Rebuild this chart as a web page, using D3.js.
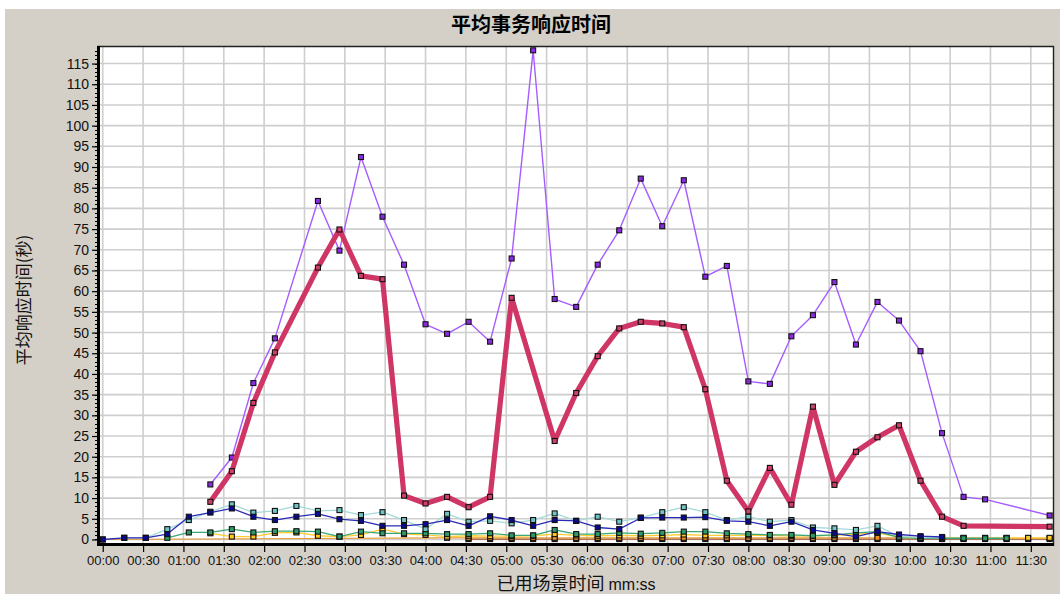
<!DOCTYPE html>
<html>
<head>
<meta charset="utf-8">
<script src="https://cdn.jsdelivr.net/npm/d3@7"></script>
<style>
  body { margin: 0; background: #fff; }
  svg { display: block; }
</style>
</head>
<body>
<svg id="chart" width="1060" height="594"></svg>
<script>
// Sample granularity of the transaction monitor, in seconds
const stepSeconds = 16;

// X tick labels every 30 s, Y ticks every 5 s
const xTickLabels = ["00:00","00:30","01:00","01:30","02:00","02:30","03:00","03:30",
  "04:00","04:30","05:00","05:30","06:00","06:30","07:00","07:30","08:00","08:30",
  "09:00","09:30","10:00","10:30","11:00","11:30"];
const yTicks = [0,5,10,15,20,25,30,35,40,45,50,55,60,65,70,75,80,85,90,95,100,105,110,115];

// Average response time per sample (seconds); null = no sample
const seriesPurple = [null,null,null,null,null,13.3,19.8,37.8,48.6,null,
  81.8,69.8,92.4,78.0,66.4,52.0,49.7,52.6,47.8,67.9,
  118.2,58.1,56.2,66.4,74.7,87.2,75.7,86.8,63.5,66.1,
  38.2,37.6,49.1,54.2,62.2,47.1,57.4,52.9,45.5,25.7,
  10.3,9.7,null,null,5.8];
const seriesCrimson = [null,null,null,null,null,9.1,16.5,33.0,45.2,null,
  65.7,74.9,63.7,62.9,10.6,8.7,10.3,7.8,10.3,58.4,
  null,23.8,35.4,44.3,51.0,52.6,52.2,51.3,36.3,14.2,
  6.8,17.3,8.4,32.1,13.2,21.2,24.7,27.6,14.2,5.5,
  3.3,null,null,null,3.1];
const seriesCyan = [null,0.4,0.4,2.5,4.7,6.7,8.5,6.5,6.9,8.1,
  6.9,7.1,5.9,6.6,4.7,2.5,6.2,4.3,4.5,3.9,
  4.7,6.3,4.5,5.5,4.3,5.3,6.6,7.8,6.6,4.7,
  5.5,4.3,4.7,2.9,2.7,2.3,3.3,0.7,0.5,0.4,
  null,null,null,null,null];
const seriesNavy = [0,0.4,0.4,1.3,5.5,6.5,7.5,5.5,4.7,5.5,
  6.2,4.9,4.5,3.3,3.3,3.7,4.7,3.3,5.6,4.7,
  3.3,4.7,4.5,2.9,2.5,5.2,5.3,5.3,5.4,4.5,
  4.3,3.3,4.3,2.3,1.5,0.7,1.9,1.2,0.8,0.6,
  null,null,null,null,null];
const seriesGreen = [null,null,null,0.4,1.7,1.7,2.5,1.7,2.0,2.0,
  1.9,0.7,1.9,1.5,1.5,1.5,1.3,1.3,1.5,1.0,
  1.0,2.3,1.3,1.3,1.6,1.4,1.6,1.9,1.9,1.5,
  1.3,1.1,1.1,0.9,1.1,1.6,1.9,0.5,0.3,0.3,
  0.3,0.3,0.3,null,null];
const seriesYellow = [null,null,null,null,null,1.5,0.7,0.7,1.6,1.7,
  0.9,0.7,1.1,2.5,1.3,1.1,0.7,0.9,0.8,0.8,
  0.9,1.3,1.0,0.9,1.0,0.9,1.0,1.2,1.0,1.0,
  1.0,1.0,0.8,0.9,1.0,1.3,1.6,0.6,0.5,0.4,
  0.4,0.4,0.4,0.4,0.4];
const seriesOrange = [0,null,null,null,null,null,null,null,null,null,
  null,null,null,null,null,null,0.4,0.4,0.4,0.4,
  0.4,0.4,0.4,0.4,0.4,0.4,0.4,0.4,0.4,0.4,
  0.4,0.4,0.4,0.4,0.4,0.4,0.4,0.4,0.3,0.3,
  0.3,0.3,0.3,0.3,0.3];
const seriesBrown = [null,null,null,null,null,null,null,null,null,null,
  null,null,null,null,null,null,null,0.1,0.1,0.1,
  0.1,0.1,0.1,0.1,0.1,0.1,0.1,0.1,0.1,0.1,
  0.1,0.1,0.1,0.1,0.1,0.1,0.1,0.1,0.1,0.1,
  0.1,0.1,0.1,0.1,0.1];

// Drawing order: small series first, the two heavy series on top
const seriesList = [
  { values: seriesBrown,   line: "#a0522d", fill: "#8b4513", width: 1.2 },
  { values: seriesOrange,  line: "#e89a30", fill: "#f0901e", width: 1.2 },
  { values: seriesYellow,  line: "#ffcc33", fill: "#ffc820", width: 1.3 },
  { values: seriesGreen,   line: "#3aa878", fill: "#2e9a68", width: 1.3 },
  { values: seriesCyan,    line: "#a6dada", fill: "#70c4c4", width: 1.3 },
  { values: seriesNavy,    line: "#2b2bb8", fill: "#0a0a90", width: 1.3 },
  { values: seriesPurple,  line: "#a65cff", fill: "#8a2be2", width: 1.4 },
  { values: seriesCrimson, line: "#cf3565", fill: "#d0406a", width: 5.2 }
];

const W = 1060, H = 594;
const plot = { left: 100, right: 1053, top: 47, bottom: 543 };

const svg = d3.select("#chart");
svg.append("rect").attr("width", W).attr("height", H).attr("fill", "#ffffff");
svg.append("rect").attr("x", 5).attr("y", 9).attr("width", W - 5).attr("height", H - 9).attr("fill", "#d4d0c8");
svg.append("rect")
  .attr("x", plot.left).attr("y", plot.top)
  .attr("width", plot.right - plot.left).attr("height", plot.bottom - plot.top)
  .attr("fill", "#ffffff");

const x = d3.scaleLinear().domain([-3, 706.5]).range([98.7, 1053]);
const y = d3.scaleLinear().domain([-0.85, 119]).range([543, 47]);

const xTickSeconds = xTickLabels.map((_, i) => i * 30);

// Grid
const grid = svg.append("g").attr("stroke", "#cecece").attr("stroke-width", 1.6);
grid.selectAll("line.v").data(xTickSeconds).join("line").attr("class", "v")
  .attr("x1", d => x(d)).attr("x2", d => x(d))
  .attr("y1", plot.top).attr("y2", plot.bottom);
grid.selectAll("line.h").data(yTicks).join("line").attr("class", "h")
  .attr("x1", plot.left).attr("x2", plot.right)
  .attr("y1", d => y(d)).attr("y2", d => y(d));

// Series
svg.append("clipPath").attr("id", "plotClip").append("rect")
  .attr("x", plot.left - 4).attr("y", plot.top - 4)
  .attr("width", plot.right - plot.left + 8).attr("height", plot.bottom - plot.top + 6);

const layer = svg.append("g").attr("clip-path", "url(#plotClip)");
const line = d3.line().x(d => x(d.t)).y(d => y(d.v));

seriesList.forEach(s => {
  const pts = s.values.map((v, i) => ({ t: i * stepSeconds, v })).filter(d => d.v !== null);
  const g = layer.append("g");
  g.append("path").datum(pts)
    .attr("fill", "none").attr("stroke", s.line).attr("stroke-width", s.width)
    .attr("stroke-linejoin", "round").attr("d", line);
  g.selectAll("rect").data(pts).join("rect")
    .attr("x", d => x(d.t) - 2.5).attr("y", d => y(d.v) - 2.5)
    .attr("width", 5).attr("height", 5)
    .attr("fill", s.fill).attr("stroke", "#111").attr("stroke-width", 1.1);
});

// Frame
svg.append("line").attr("x1", 97).attr("x2", plot.right + 1).attr("y1", 46.5).attr("y2", 46.5)
  .attr("stroke", "#222").attr("stroke-width", 1.6);
svg.append("line").attr("x1", plot.right + 0.5).attr("x2", plot.right + 0.5).attr("y1", 46).attr("y2", 546)
  .attr("stroke", "#222").attr("stroke-width", 1.4);
svg.append("rect").attr("x", 97).attr("y", 46).attr("width", 3).attr("height", 500).attr("fill", "#000");
svg.append("rect").attr("x", 97).attr("y", 543).attr("width", plot.right - 97 + 1).attr("height", 3).attr("fill", "#000");

// Minor ruler on the value axis
svg.append("g").attr("stroke", "#000").attr("stroke-width", 1)
  .selectAll("line").data(d3.range(0, 119, 1)).join("line")
  .attr("x1", 95).attr("x2", 97).attr("y1", d => Math.round(y(d)) + 0.5).attr("y2", d => Math.round(y(d)) + 0.5);

const fontLatin = "'Liberation Sans', Arial, sans-serif";
const fontCJK = "'Noto Sans CJK SC', 'Noto Sans', sans-serif";

const yAxis = svg.append("g").attr("transform", "translate(97,0)")
  .call(d3.axisLeft(y).tickValues(yTicks).tickSize(5).tickPadding(3).tickFormat(d3.format("d")));
yAxis.select(".domain").remove();
yAxis.selectAll("line").attr("stroke", "#000").attr("stroke-width", 1.2);
yAxis.selectAll("text").attr("font-family", fontLatin).attr("font-size", 14).attr("fill", "#111");

const xAxis = svg.append("g").attr("transform", "translate(0,546)")
  .call(d3.axisBottom(x).tickValues(xTickSeconds).tickSize(6).tickPadding(4)
    .tickFormat((d, i) => xTickLabels[i]));
xAxis.select(".domain").remove();
xAxis.selectAll("line").attr("stroke", "#000").attr("stroke-width", 1.2);
xAxis.selectAll("text").attr("font-family", fontLatin).attr("font-size", 13).attr("fill", "#111");

// Titles
svg.append("text").attr("x", 531).attr("y", 32).attr("text-anchor", "middle")
  .attr("font-family", fontCJK).attr("font-weight", "bold").attr("font-size", 20).attr("fill", "#000")
  .text("平均事务响应时间");

svg.append("text").attr("transform", "translate(30,300) rotate(-90)").attr("text-anchor", "middle")
  .attr("font-family", fontCJK).attr("font-size", 17).attr("fill", "#111")
  .text("平均响应时间(秒)");

const xt = svg.append("text").attr("x", 576).attr("y", 590).attr("text-anchor", "middle").attr("fill", "#111");
xt.append("tspan").attr("font-family", fontCJK).attr("font-size", 18).text("已用场景时间 ");
xt.append("tspan").attr("font-family", fontLatin).attr("font-size", 16).text("mm:ss");
</script>
</body>
</html>
